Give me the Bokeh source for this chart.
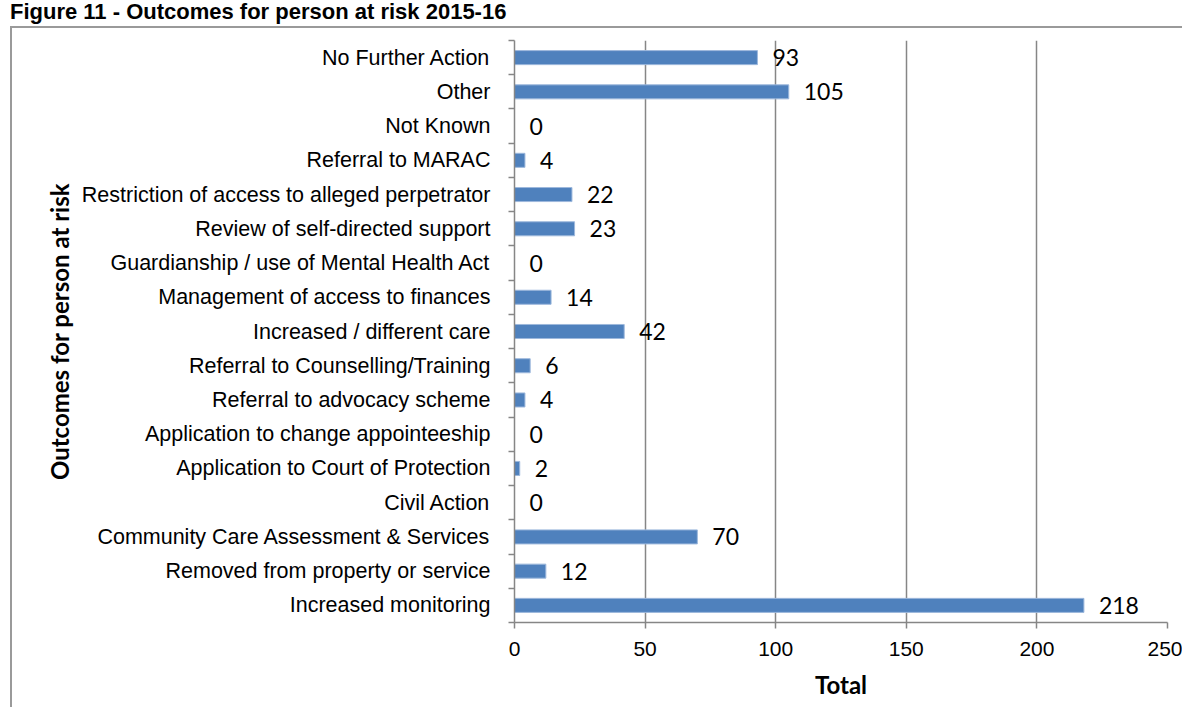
from bokeh.plotting import figure
from bokeh.layouts import column
from bokeh.models import Range1d, FixedTicker, ColumnDataSource, Div
from bokeh.core.properties import value
from bokeh.embed import file_html
from bokeh.resources import INLINE

categories = [
    "No Further Action",
    "Other",
    "Not Known",
    "Referral to MARAC",
    "Restriction of access to alleged perpetrator",
    "Review of self-directed support",
    "Guardianship / use of Mental Health Act",
    "Management of access to finances",
    "Increased / different care",
    "Referral to Counselling/Training",
    "Referral to advocacy scheme",
    "Application to change appointeeship",
    "Application to Court of Protection",
    "Civil Action",
    "Community Care Assessment & Services",
    "Removed from property or service",
    "Increased monitoring",
]
totals = [93, 105, 0, 4, 22, 23, 0, 14, 42, 6, 4, 0, 2, 0, 70, 12, 218]
x_ticks = [0, 50, 100, 150, 200, 250]
title_text = "Figure 11 - Outcomes for person at risk 2015-16"
x_title = "Total"
y_title = "Outcomes for person at risk"

n = len(categories)
ypos = [n - 1 - i for i in range(n)]
source = ColumnDataSource(dict(
    y=ypos, total=totals, label=[str(v) for v in totals], name=categories))

GRID = "#868686"
TOTAL_W, TOTAL_H = 1184, 709
TITLE_H = 26
OX, OY = 12, TITLE_H + 2          # figure canvas origin on the page (after margin + border)
W, H = TOTAL_W - OX, TOTAL_H - OY
FL, FR, FT, FB = 514 - OX, 1167 - OX, 40 - OY, 622 - OY   # frame edges in canvas pixels

title_div = Div(text=title_text, width=TOTAL_W, height=TITLE_H, margin=0,
                styles={"font-family": "Liberation Sans", "font-weight": "bold",
                        "font-size": "22px", "color": "black",
                        "padding-left": "10px", "line-height": "24px"})

p = figure(width=W, height=H, output_backend="svg", toolbar_location=None,
           x_range=Range1d(0, 250), y_range=Range1d(-0.5, n - 0.5),
           min_border_left=FL, min_border_right=W - FR,
           min_border_top=FT, min_border_bottom=H - FB,
           margin=(0, 0, 0, 10),
           styles={"border-top": "2px solid #9A9A9A",
                   "border-left": "2px solid #9A9A9A"})
p.outline_line_color = None
p.background_fill_color = "white"
p.border_fill_color = "white"

p.hbar(y="y", right="total", left=0, height=0.41, source=source,
       fill_color="#4F81BD", line_color="#9DB8DC", line_width=1)

p.text(x="total", y="y", text="label", source=source, x_offset=15,
       text_align="left", text_baseline="middle",
       text_font=value("Lato"), text_font_size="23px", text_color="black")

# x axis
xa = p.xaxis[0]
xa.ticker = FixedTicker(ticks=x_ticks)
xa.axis_line_color = GRID
xa.axis_line_width = 1.5
xa.major_tick_line_color = GRID
xa.major_tick_line_width = 1.5
xa.major_tick_out = 6
xa.major_tick_in = 0
xa.minor_tick_line_color = None
xa.major_label_text_font = "Liberation Sans"
xa.major_label_text_font_size = "21px"
xa.major_label_text_color = "black"
xa.major_label_standoff = 13
xa.axis_label = x_title
xa.axis_label_text_font = "Lato"
xa.axis_label_text_font_style = "bold"
xa.axis_label_text_font_size = "24px"
xa.axis_label_text_color = "black"
xa.axis_label_standoff = 11

# y axis
ya = p.yaxis[0]
ya.ticker = FixedTicker(ticks=ypos, minor_ticks=[k - 0.5 for k in range(n + 1)])
ya.major_label_overrides = {y: c for y, c in zip(ypos, categories)}
ya.axis_line_color = GRID
ya.axis_line_width = 1.5
ya.major_tick_line_color = None
ya.major_tick_out = 0
ya.major_tick_in = 0
ya.minor_tick_line_color = GRID
ya.minor_tick_line_width = 1.5
ya.minor_tick_out = 6
ya.minor_tick_in = 0
ya.major_label_text_font = "Liberation Sans"
ya.major_label_text_font_size = "21.5px"
ya.major_label_text_color = "black"
ya.major_label_standoff = 18
ya.axis_label = y_title
ya.axis_label_text_font = "Lato"
ya.axis_label_text_font_style = "bold"
ya.axis_label_text_font_size = "24px"
ya.axis_label_text_color = "black"
ya.axis_label_standoff = 5

p.xgrid.ticker = FixedTicker(ticks=x_ticks)
p.xgrid.grid_line_color = GRID
p.xgrid.grid_line_width = 1.5
p.ygrid.visible = False

layout = column(title_div, p, spacing=0)

open("out.html", "w").write(file_html(layout, INLINE))
